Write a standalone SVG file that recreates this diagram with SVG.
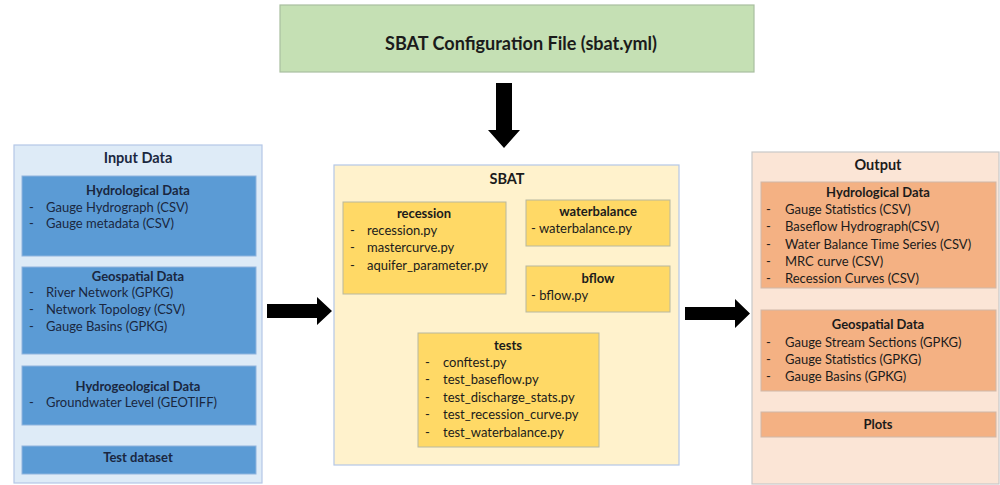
<svg xmlns="http://www.w3.org/2000/svg" width="1000" height="485" viewBox="0 0 1000 485">
<style>
text{font-family:Lato,"Liberation Sans",sans-serif;font-size:13px;fill:#1b1b1b}
.t{font-weight:bold;text-anchor:middle}
.h{font-weight:bold;text-anchor:middle;font-size:14.5px}
.bl text{fill:#1a2740}
.panelB{fill:#deebf7;stroke:#b4c7e7;stroke-width:1.2}
.boxB{fill:#5b9bd5;stroke:#8fb4de;stroke-width:1}
.panelY{fill:#fff2cc;stroke:#b4c7e7;stroke-width:1.2}
.boxY{fill:#ffd966;stroke:#b8b8a0;stroke-width:1}
.panelO{fill:#fbe5d6;stroke:#c8c8c8;stroke-width:1.2}
.boxO{fill:#f4b183;stroke:#d0b8a8;stroke-width:1}
.arrow{fill:#000}
</style>
<rect width="1000" height="485" fill="#fff"/>
<g id="config">
<rect x="280" y="5" width="474" height="67" fill="#c5e0b4" stroke="#a9bfa0" stroke-width="1.2"/>
<text x="521" y="50" class="t" style="font-size:19px" textLength="272" lengthAdjust="spacingAndGlyphs">SBAT Configuration File (sbat.yml)</text>
</g>
<g id="input" class="bl">
<rect class="panelB" x="14" y="145" width="248" height="338"/>
<text x="138" y="163" class="h">Input Data</text>
<g id="in-hydro">
<rect class="boxB" x="22" y="176" width="234" height="80"/>
<text x="138" y="195" class="t">Hydrological Data</text>
<text x="29" y="212">-</text><text x="46" y="212">Gauge Hydrograph (CSV)</text>
<text x="29" y="228">-</text><text x="46" y="228">Gauge metadata (CSV)</text>
</g>
<g id="in-geo">
<rect class="boxB" x="22" y="267" width="234" height="87"/>
<text x="138" y="281" class="t">Geospatial Data</text>
<text x="29" y="297">-</text><text x="46" y="297">River Network (GPKG)</text>
<text x="29" y="314">-</text><text x="46" y="314">Network Topology (CSV)</text>
<text x="29" y="331">-</text><text x="46" y="331">Gauge Basins (GPKG)</text>
</g>
<g id="in-hydrogeo">
<rect class="boxB" x="22" y="366" width="234" height="59"/>
<text x="138" y="391" class="t">Hydrogeological Data</text>
<text x="29" y="407">-</text><text x="46" y="407">Groundwater Level (GEOTIFF)</text>
</g>
<g id="in-test">
<rect class="boxB" x="22" y="446" width="234" height="28"/>
<text x="138" y="462" class="t">Test dataset</text>
</g>
</g>
<g id="sbat">
<rect class="panelY" x="334" y="165" width="345" height="300"/>
<text x="507" y="184" class="h">SBAT</text>
<g id="recession">
<rect class="boxY" x="343" y="202" width="163" height="92"/>
<text x="424" y="218" class="t">recession</text>
<text x="350" y="235">-</text><text x="367" y="235">recession.py</text>
<text x="350" y="252">-</text><text x="367" y="252">mastercurve.py</text>
<text x="350" y="270">-</text><text x="367" y="270">aquifer_parameter.py</text>
</g>
<g id="waterbalance">
<rect class="boxY" x="526" y="200" width="144" height="46"/>
<text x="598" y="216" class="t">waterbalance</text>
<text x="531" y="233">- waterbalance.py</text>
</g>
<g id="bflow">
<rect class="boxY" x="526" y="266" width="144" height="46"/>
<text x="598" y="283" class="t">bflow</text>
<text x="531" y="300">- bflow.py</text>
</g>
<g id="tests">
<rect class="boxY" x="418" y="333" width="181" height="114"/>
<text x="508" y="350" class="t">tests</text>
<text x="425" y="367">-</text><text x="443" y="367">conftest.py</text>
<text x="425" y="384">-</text><text x="443" y="384">test_baseflow.py</text>
<text x="425" y="402">-</text><text x="443" y="402">test_discharge_stats.py</text>
<text x="425" y="419">-</text><text x="443" y="419">test_recession_curve.py</text>
<text x="425" y="437">-</text><text x="443" y="437">test_waterbalance.py</text>
</g>
</g>
<g id="output">
<rect class="panelO" x="752" y="152" width="247" height="332"/>
<text x="878" y="170" class="h">Output</text>
<g id="out-hydro">
<rect class="boxO" x="761" y="182" width="235" height="106"/>
<text x="878" y="197" class="t">Hydrological Data</text>
<text x="766" y="214">-</text><text x="785" y="214">Gauge Statistics (CSV)</text>
<text x="766" y="231">-</text><text x="785" y="231">Baseflow Hydrograph(CSV)</text>
<text x="766" y="249">-</text><text x="785" y="249">Water Balance Time Series (CSV)</text>
<text x="766" y="266">-</text><text x="785" y="266">MRC curve (CSV)</text>
<text x="766" y="283">-</text><text x="785" y="283">Recession Curves (CSV)</text>
</g>
<g id="out-geo">
<rect class="boxO" x="761" y="310" width="235" height="81"/>
<text x="878" y="329" class="t">Geospatial Data</text>
<text x="766" y="347">-</text><text x="785" y="347">Gauge Stream Sections (GPKG)</text>
<text x="766" y="364">-</text><text x="785" y="364">Gauge Statistics (GPKG)</text>
<text x="766" y="381">-</text><text x="785" y="381">Gauge Basins (GPKG)</text>
</g>
<g id="out-plots">
<rect class="boxO" x="761" y="412" width="235" height="25"/>
<text x="878" y="429" class="t">Plots</text>
</g>
</g>
<g id="connectors">
<polygon class="arrow" points="496,83 512,83 512,130 520,130 504,148 488,130 496,130"/>
<polygon class="arrow" points="267,304 317,304 317,297 332,311 317,325 317,318 267,318"/>
<polygon class="arrow" points="685,307 735,307 735,299 750,313.5 735,328 735,320 685,320"/>
</g>
</svg>
